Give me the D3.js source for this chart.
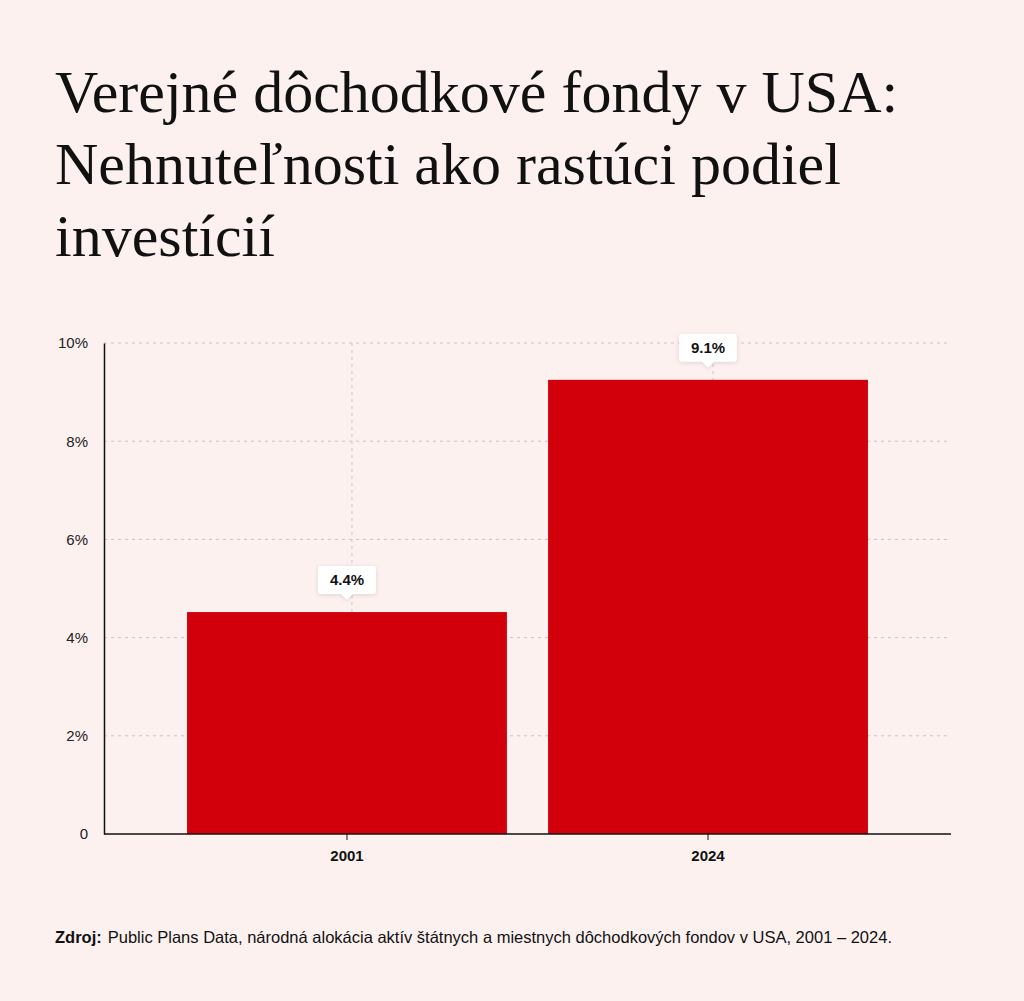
<!DOCTYPE html>
<html><head><meta charset="utf-8">
<script src="https://cdn.jsdelivr.net/npm/d3@7"></script>
<style>
body{margin:0;background:#fdf1f0;}
svg{display:block;font-family:"Liberation Sans",Arial,sans-serif;}
</style></head><body>
<svg id="chart" width="1024" height="1001"></svg>
<script>
// data
var years = ["2001", "2024"];
var shares = [4.52, 9.25];
var labels = ["4.4%", "9.1%"];
var yTicks = [0, 2, 4, 6, 8, 10];
var titleLines = ["Verejné dôchodkové fondy v USA:", "Nehnuteľnosti ako rastúci podiel", "investícií"];

var svg = d3.select("#chart");
svg.append("rect").attr("width", 1024).attr("height", 1001).attr("fill", "#fdf1f0");

// title
svg.append("text").attr("x", 55).attr("y", 112)
    .attr("font-family", "'Liberation Serif','Times New Roman',serif")
    .attr("font-size", 60).attr("fill", "#111")
    .selectAll("tspan").data(titleLines).join("tspan")
    .attr("x", 55).attr("dy", (d, i) => i ? 72 : 0).text(d => d);

var pLeft = 104, pRight = 951, pTop = 343, pBottom = 834;
var x = d3.scaleBand().domain(years).range([pLeft, pRight]).paddingInner(0.114).paddingOuter(0.23);
var y = d3.scaleLinear().domain([0, 10]).range([pBottom, pTop]);

// grid
svg.append("g").selectAll("line").data(yTicks.filter(d => d > 0)).join("line")
    .attr("x1", pLeft).attr("x2", pRight).attr("y1", d => y(d)).attr("y2", d => y(d))
    .attr("stroke", "#c8c4c4").attr("stroke-dasharray", "3,4");
svg.append("g").selectAll("line").data(years).join("line")
    .attr("x1", d => x(d) + x.bandwidth() / 2 + 5).attr("x2", d => x(d) + x.bandwidth() / 2 + 5)
    .attr("y1", pTop).attr("y2", pBottom)
    .attr("stroke", "#c8c4c4").attr("stroke-dasharray", "3,4");

// bars
svg.append("g").selectAll("rect").data(years).join("rect")
    .attr("x", d => x(d)).attr("width", x.bandwidth())
    .attr("y", (d, i) => y(shares[i])).attr("height", (d, i) => pBottom - y(shares[i]))
    .attr("fill", "#d1000b");

// axes
var yAxis = svg.append("g").attr("transform", `translate(${pLeft},0)`)
    .call(d3.axisLeft(y).tickValues(yTicks).tickSize(0).tickPadding(16).tickFormat(d => d === 0 ? "0" : d + "%"));
yAxis.select(".domain").attr("stroke", "#111").attr("stroke-width", 1.5);
yAxis.selectAll("text").attr("font-size", 15).attr("fill", "#222");

var xAxis = svg.append("g").attr("transform", `translate(0,${pBottom})`)
    .call(d3.axisBottom(x).tickSize(6).tickPadding(10));
xAxis.select(".domain").attr("stroke", "#111").attr("stroke-width", 1.5).attr("d", `M${pLeft},0H${pRight}`);
xAxis.selectAll("line").attr("stroke", "#111");
xAxis.selectAll("text").attr("font-size", 15).attr("font-weight", "bold").attr("fill", "#111");

// value labels
var tips = svg.append("g").selectAll("g").data(years).join("g")
    .attr("transform", (d, i) => `translate(${x(d) + x.bandwidth() / 2},${y(shares[i]) - 18})`);
tips.append("path")
    .attr("d", "M-26,-28 H26 Q29,-28 29,-25 V-3 Q29,0 26,0 H6 L0,6 L-6,0 H-26 Q-29,0 -29,-3 V-25 Q-29,-28 -26,-28 Z")
    .attr("fill", "#fff").style("filter", "drop-shadow(0 1px 2px rgba(0,0,0,0.12))");
tips.append("text").attr("y", -9).attr("text-anchor", "middle")
    .attr("font-size", 15).attr("font-weight", "bold").attr("fill", "#111")
    .text((d, i) => labels[i]);

// source
var src = svg.append("text").attr("x", 55).attr("y", 943).attr("font-size", 16.5).attr("fill", "#111");
src.append("tspan").attr("font-weight", "bold").text("Zdroj:");
src.append("tspan").attr("dx", 6).text("Public Plans Data, národná alokácia aktív štátnych a miestnych dôchodkových fondov v USA, 2001 – 2024.");
</script>
</body></html>
